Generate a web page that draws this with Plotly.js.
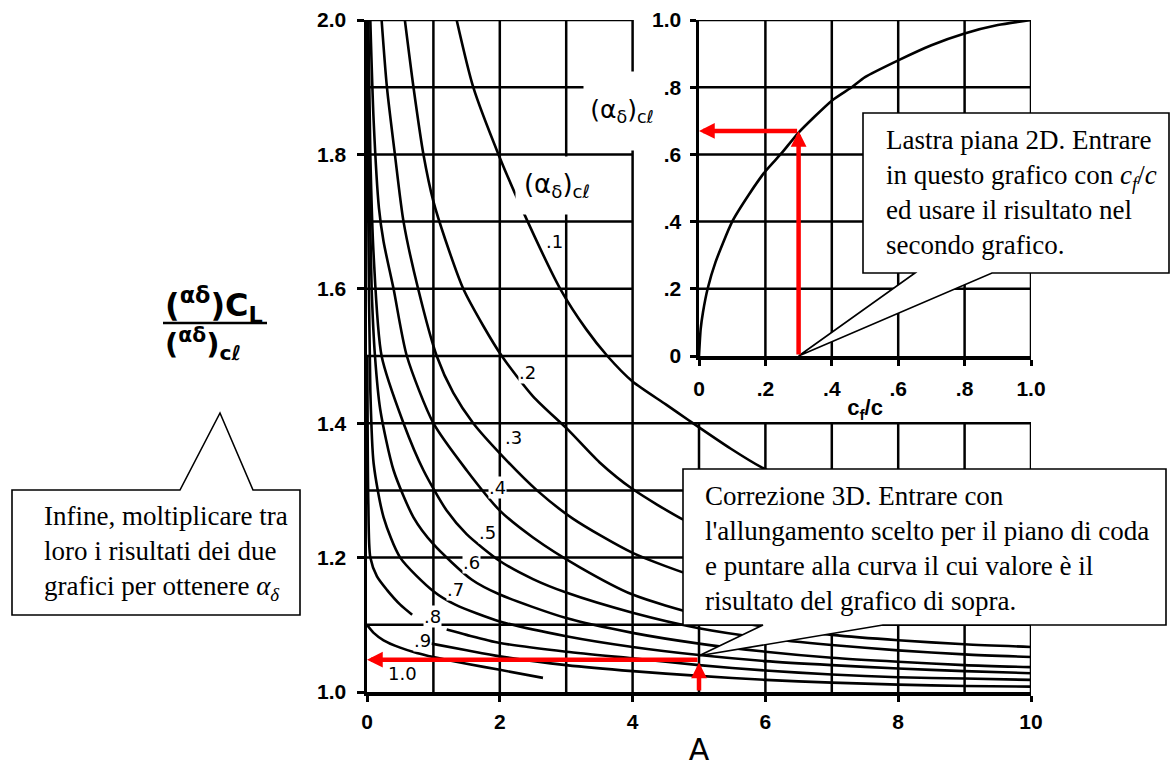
<!DOCTYPE html>
<html>
<head>
<meta charset="utf-8">
<script src="https://cdn.plot.ly/plotly-3.0.1.min.js"></script>
<style>
  html, body { margin: 0; padding: 0; background: #fff; }
  #chart { width: 1171px; height: 769px; }
</style>
</head>
<body>
<div id="chart"></div>
<script>
// ---- 3D correction: (αδ)CL / (αδ)cl against aspect ratio A, one curve per (αδ)cl ----
const curveNames = ['.1', '.2', '.3', '.4', '.5', '.6', '.7', '.8', '.9', '1.0'];

const A_01 = [1.35, 1.6, 1.98, 2.36, 2.91, 3.3, 3.62, 4.0, 4.5, 4.85, 5.48, 5.93, 7, 8, 9, 10];
const R_01 = [2.0, 1.9, 1.8, 1.713, 1.6, 1.54, 1.5, 1.462, 1.428, 1.404, 1.362, 1.335, 1.285, 1.25, 1.225, 1.205];

const A_02 = [0.57, 0.7, 0.85, 1.0, 1.18, 1.45, 1.75, 2.03, 2.5, 3.03, 3.5, 4.0, 4.77, 6, 7, 8, 9, 10];
const R_02 = [2.0, 1.9, 1.8, 1.73, 1.673, 1.6, 1.545, 1.5, 1.44, 1.39, 1.342, 1.302, 1.256, 1.2, 1.168, 1.145, 1.127, 1.112];

const A_03 = [0.22, 0.3, 0.42, 0.55, 0.77, 1.05, 1.3, 1.6, 2.05, 2.56, 3.1, 4.0, 5, 6, 7, 8, 9, 10];
const R_03 = [2.0, 1.9, 1.8, 1.7, 1.6, 1.5, 1.445, 1.4, 1.35, 1.30, 1.258, 1.207, 1.17, 1.145, 1.127, 1.115, 1.106, 1.1];

const A_04 = [0.05, 0.1, 0.18, 0.25, 0.4, 0.6, 1.0, 1.5, 2.0, 2.5, 3.2, 4.0, 5, 6, 7, 8, 9, 10];
const R_04 = [2.0, 1.85, 1.72, 1.67, 1.6, 1.5, 1.4, 1.33, 1.27, 1.23, 1.186, 1.145, 1.115, 1.097, 1.085, 1.077, 1.071, 1.067];

const A_05 = [0.02, 0.05, 0.1, 0.22, 0.55, 0.85, 1.2, 1.5, 2.0, 2.5, 3.0, 4.0, 5, 6, 7, 8, 9, 10];
const R_05 = [2.0, 1.8, 1.65, 1.5, 1.4, 1.33, 1.27, 1.235, 1.195, 1.168, 1.148, 1.118, 1.095, 1.08, 1.07, 1.062, 1.056, 1.052];

const A_06 = [0.01, 0.03, 0.07, 0.12, 0.2, 0.4, 0.7, 1.0, 1.58, 2.0, 3.0, 4.0, 5, 6, 7, 8, 9, 10];
const R_06 = [2.0, 1.8, 1.6, 1.5, 1.42, 1.33, 1.26, 1.22, 1.167, 1.145, 1.11, 1.088, 1.072, 1.06, 1.051, 1.045, 1.04, 1.037];

const A_07 = [0.005, 0.02, 0.05, 0.1, 0.25, 0.5, 1.0, 1.33, 2.0, 3.0, 4.0, 5, 6, 7, 8, 9, 10];
const R_07 = [2.0, 1.7, 1.45, 1.34, 1.26, 1.2, 1.15, 1.13, 1.105, 1.083, 1.067, 1.055, 1.046, 1.04, 1.035, 1.031, 1.028];

// the .8 curve is interrupted where its label sits
const A_08 = [0.005, 0.02, 0.05, 0.15, 0.3, 0.5, 0.68, null, 1.2, 1.5, 2.0, 3.0, 4.0, 5, 6, 7, 8, 9, 10];
const R_08 = [1.5, 1.28, 1.2, 1.172, 1.152, 1.13, 1.115, null, 1.093, 1.085, 1.073, 1.06, 1.05, 1.04, 1.032, 1.026, 1.022, 1.02, 1.018];

const A_09 = [0.97, 1.5, 2.0, 3.0, 4.0, 5, 6, 7, 8, 9, 10];
const R_09 = [1.072, 1.062, 1.053, 1.04, 1.031, 1.024, 1.018, 1.014, 1.011, 1.009, 1.008];

const A_10 = [0, 0.1, 0.25, 0.5, 0.75, 1.0, 1.5, 2.0, 2.65];
const R_10 = [1.1, 1.088, 1.077, 1.066, 1.058, 1.052, 1.042, 1.033, 1.021];

const curveA = [A_01, A_02, A_03, A_04, A_05, A_06, A_07, A_08, A_09, A_10];
const curveR = [R_01, R_02, R_03, R_04, R_05, R_06, R_07, R_08, R_09, R_10];

// ---- 2D flat plate: (αδ)cl against flap chord ratio cf/c ----
const cfOverC      = [0, 0.005, 0.012, 0.026, 0.05, 0.1, 0.15, 0.2, 0.25, 0.3, 0.4, 0.46, 0.5, 0.6, 0.7, 0.8, 0.9, 1.0];
const alphaDelta2D = [0, 0.08, 0.13, 0.2, 0.28, 0.4, 0.48, 0.55, 0.605, 0.665, 0.76, 0.8, 0.83, 0.88, 0.925, 0.96, 0.985, 1.0];

// ---- worked example ----
const chosenCf = 0.3;       // flap chord ratio entered in the 2D chart
const readAlpha2D = 0.67;   // (αδ)cl
const chosenA = 5;          // tail aspect ratio entered in the 3D chart
const readRatio = 1.048;    // correction ratio

// ---- tick labels ----
const mainXTicks = [0, 2, 4, 6, 8, 10];
const mainYTicks = [1.0, 1.2, 1.4, 1.6, 1.8, 2.0];
const insetTicks = [0, 0.2, 0.4, 0.6, 0.8, 1.0];
const insetTickText = ['0', '.2', '.4', '.6', '.8', '1.0'];

// ---- page geometry ----
const W = 1171, H = 769;
const M = { l: 367, r: 140, t: 20, b: 77 };
const PW = W - M.l - M.r, PH = H - M.t - M.b;
const px = X => (X - M.l) / PW;          // pixel -> paper
const py = Y => (H - M.b - Y) / PH;
const mainToPix = (a, r) => [M.l + a / 10 * PW, H - M.b - (r - 1) * PH];
const insetToPix = (c, v) => [M.l + (0.5 + c * 0.5) * PW, H - M.b - (0.5 + v * 0.5) * PH];

const INK = '#000';
const RED = '#ff0000';
const tickFont = { family: 'Liberation Sans', size: 21, weight: 'bold', color: INK };

// ---- traces ----
const traces = curveA.map((xs, i) => ({
  type: 'scatter', mode: 'lines', x: xs, y: curveR[i],
  xaxis: 'x', yaxis: 'y', hoverinfo: 'skip', connectgaps: false,
  line: { color: INK, width: 2.6, shape: 'spline', smoothing: 0.7 }
}));
traces.push({
  type: 'scatter', mode: 'lines', x: cfOverC, y: alphaDelta2D,
  xaxis: 'x2', yaxis: 'y2', hoverinfo: 'skip',
  line: { color: INK, width: 2.6, shape: 'spline', smoothing: 0.6 }
});

// ---- grid (the main chart is L-shaped around the inset) ----
const shapes = [];
const seg = (xref, yref, x0, y0, x1, y1, w) => shapes.push({
  type: 'line', xref, yref, x0, y0, x1, y1, layer: 'below',
  line: { color: INK, width: w }
});
for (let a = 1; a <= 4; a++) seg('x', 'y', a, 1, a, 2, 2.5);
for (let a = 5; a <= 10; a++) seg('x', 'y', a, 1, a, 1.4, 2.5);
[1.1, 1.2, 1.3, 1.4].forEach(r => seg('x', 'y', 0, r, 10, r, 2.5));
[1.5, 1.6, 1.7, 1.8, 1.9, 2.0].forEach(r => seg('x', 'y', 0, r, 4, r, 2.5));
[0.2, 0.4, 0.6, 0.8, 1.0].forEach(c => seg('x2', 'y2', c, 0, c, 1, 2.5));
[0.2, 0.4, 0.6, 0.8, 1.0].forEach(v => seg('x2', 'y2', 0, v, 1, v, 2.5));

// fraction bar of the main y label
shapes.push({ type: 'line', xref: 'paper', yref: 'paper', x0: px(163), x1: px(267), y0: py(323), y1: py(323),
  line: { color: INK, width: 2.5 } });

// ---- callout bubbles ----
const bubble = pts => 'M' + pts.map(p => px(p[0]).toFixed(5) + ',' + py(p[1]).toFixed(5)).join('L') + 'Z';
const tip1 = insetToPix(chosenCf, 0);
const tip2 = mainToPix(chosenA, readRatio + 0.006);
const bubbles = [
  [[863, 113], [1169, 113], [1169, 273], [992, 273], tip1, [915, 273], [863, 273]],
  [[683, 469], [1166, 469], [1166, 625], [883, 625], tip2, [763, 625], [683, 625]],
  [[12, 490], [180, 490], [220, 413], [253, 490], [300, 490], [300, 615], [12, 615]]
];
bubbles.forEach(b => shapes.push({
  type: 'path', xref: 'paper', yref: 'paper', layer: 'above', path: bubble(b),
  fillcolor: '#fff', line: { color: INK, width: 1.6 }
}));

// ---- annotations ----
const annotations = [];

// curve labels
const labelAt = [[2.82, 1.67], [2.42, 1.475], [2.2, 1.378], [1.96, 1.304], [1.82, 1.237],
                 [1.58, 1.192], [1.33, 1.152], [0.99, 1.112], [0.83, 1.077], [0.54, 1.028]];
curveNames.forEach((t, i) => annotations.push({
  xref: 'x', yref: 'y', x: labelAt[i][0], y: labelAt[i][1], text: t, showarrow: false,
  font: { family: 'DejaVu Sans', size: 18, color: INK }, bgcolor: '#fff', borderpad: 0
}));

// family label in the main chart
annotations.push({
  xref: 'x', yref: 'y', x: 2.86, y: 1.753, xanchor: 'center', text: '(α<sub>δ</sub>)<sub>cℓ</sub>', showarrow: false,
  font: { family: 'DejaVu Sans', size: 26, color: INK }, bgcolor: '#fff', width: 80, height: 55
});

// inset y label
annotations.push({
  xref: 'paper', yref: 'paper', x: px(622), y: py(111), xanchor: 'center', yanchor: 'middle',
  text: '(α<sub>δ</sub>)<sub>cℓ</sub>', showarrow: false,
  font: { family: 'DejaVu Sans', size: 25, color: INK }, bgcolor: '#fff', width: 74, height: 76
});

// main y label as a fraction
annotations.push({
  xref: 'paper', yref: 'paper', x: px(163), y: py(305), xanchor: 'left', yanchor: 'middle',
  text: '(<sup>αδ</sup>)C<sub>L</sub>', showarrow: false,
  font: { family: 'DejaVu Sans', size: 32, weight: 'bold', color: INK }
});
annotations.push({
  xref: 'paper', yref: 'paper', x: px(163), y: py(344), xanchor: 'left', yanchor: 'middle',
  text: '(<sup>αδ</sup>)<sub>cℓ</sub>', showarrow: false,
  font: { family: 'DejaVu Sans', size: 29, weight: 'bold', color: INK }
});

// red reading arrows (head at x,y; tail at ax,ay)
const arrow = (xref, yref, x, y, ax, ay) => annotations.push({
  xref, yref, axref: xref, ayref: yref, x, y, ax, ay, text: '', showarrow: true,
  arrowhead: 2, arrowsize: 0.7, arrowwidth: 4.5, arrowcolor: RED
});
arrow('x2', 'y2', chosenCf, readAlpha2D, chosenCf, 0);
arrow('x2', 'y2', 0, readAlpha2D, chosenCf, readAlpha2D);
arrow('x', 'y', chosenA, readRatio - 0.004, chosenA, 1.0);
arrow('x', 'y', 0, readRatio, chosenA, readRatio);

// callout texts
const noteFont = { family: 'Liberation Serif', size: 27, color: INK };
const note = (X, Y, text) => annotations.push({
  xref: 'paper', yref: 'paper', x: px(X), y: py(Y), xanchor: 'left', yanchor: 'middle', align: 'left',
  text, showarrow: false, font: noteFont
});
note(884, 192, 'Lastra piana 2D. Entrare<br>in questo grafico con <i>c<sub>f</sub></i>/<i>c</i><br>ed usare il risultato nel<br>secondo grafico.');
note(703, 548, 'Correzione 3D. Entrare con<br>l\'allungamento scelto per il piano di coda<br>e puntare alla curva il cui valore è il<br>risultato del grafico di sopra.');
note(42, 553, 'Infine, moltiplicare tra<br>loro i risultati dei due<br>grafici per ottenere <i>α<sub>δ</sub></i>');

// ---- layout ----
const layout = {
  width: W, height: H, margin: M, showlegend: false,
  paper_bgcolor: '#fff', plot_bgcolor: 'rgba(0,0,0,0)',
  xaxis: {
    domain: [0, 1], range: [0, 10], anchor: 'y', fixedrange: true,
    showgrid: false, zeroline: false, showline: true, linewidth: 3.5, linecolor: INK,
    ticks: 'outside', ticklen: 6, tickwidth: 3, tickcolor: INK, tickvals: mainXTicks,
    ticktext: mainXTicks.map(String), tickfont: tickFont, ticklabelstandoff: 2,
    title: { text: 'A', font: { family: 'DejaVu Sans', size: 30, color: INK }, standoff: 8 }
  },
  yaxis: {
    domain: [0, 1], range: [1, 2], anchor: 'x', fixedrange: true,
    showgrid: false, zeroline: false, showline: true, linewidth: 3.5, linecolor: INK,
    ticks: 'outside', ticklen: 7, tickwidth: 3, tickcolor: INK, tickvals: mainYTicks,
    ticktext: mainYTicks.map(v => v.toFixed(1)), tickfont: tickFont, ticklabelstandoff: 6
  },
  xaxis2: {
    domain: [0.5, 1], range: [0, 1], anchor: 'y2', fixedrange: true,
    showgrid: false, zeroline: false, showline: true, linewidth: 3.5, linecolor: INK,
    ticks: 'outside', ticklen: 6, tickwidth: 3, tickcolor: INK, tickvals: insetTicks,
    ticktext: insetTickText, tickfont: tickFont, ticklabelstandoff: 5,
    title: { text: 'c<sub>f</sub>/c', font: { family: 'Liberation Sans', size: 22, weight: 'bold', color: INK }, standoff: 2 }
  },
  yaxis2: {
    domain: [0.5, 1], range: [0, 1], anchor: 'x2', fixedrange: true,
    showgrid: false, zeroline: false, showline: true, linewidth: 3.5, linecolor: INK,
    ticks: 'outside', ticklen: 6, tickwidth: 3, tickcolor: INK, tickvals: insetTicks,
    ticktext: insetTickText, tickfont: tickFont, ticklabelstandoff: 4
  },
  shapes, annotations
};

Plotly.newPlot('chart', traces, layout, { staticPlot: true, displayModeBar: false });
</script>
</body>
</html>
